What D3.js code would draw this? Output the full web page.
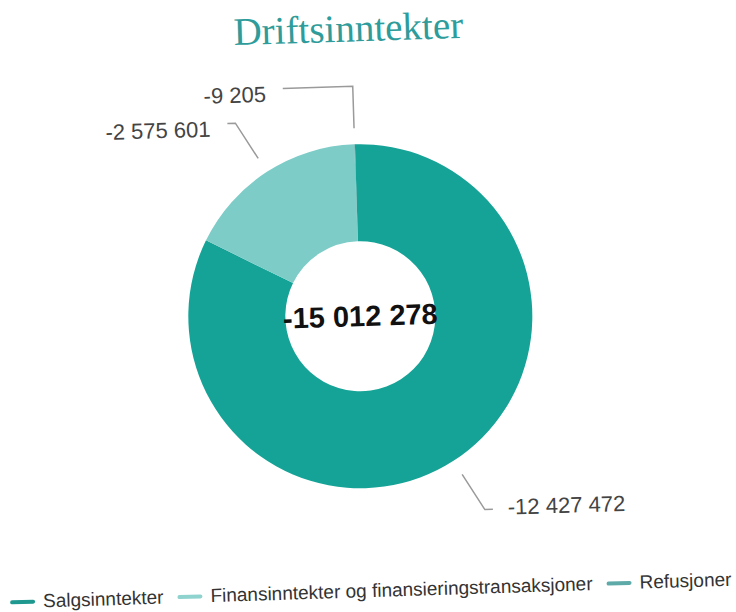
<!DOCTYPE html>
<html>
<head>
<meta charset="utf-8">
<script src="https://cdn.jsdelivr.net/npm/d3@7"></script>
<style>
  html, body { margin: 0; padding: 0; background: #fff; }
  svg { display: block; }
</style>
</head>
<body>
<svg id="chart" width="736" height="612"></svg>
<script>
// ---- data ----
const title = "Driftsinntekter";
const categories = ["Salgsinntekter", "Finansinntekter og finansieringstransaksjoner", "Refusjoner"];
const values = [-12427472, -2575601, -9205];
const colors = ["#14a396", "#7dccc7", "#4ea8a4"];
const legendColors = ["#1f9890", "#8fd3cf", "#5eaaa8"];

// ---- helpers ----
const fmt = v => {
  const s = Math.abs(v).toString().replace(/\B(?=(\d{3})+(?!\d))/g, " ");
  return (v < 0 ? "-" : "") + s;
};

const svg = d3.select("#chart");
// the reference is a slightly rotated scan
const root = svg.append("g").attr("transform", "rotate(-1.8,368,306)");

const cx = 360, cy = 316, R = 172, r = 75;

root.append("text")
  .attr("x", 357).attr("y", 41)
  .attr("text-anchor", "middle")
  .attr("font-family", "Liberation Serif, serif")
  .attr("font-size", 39)
  .attr("fill", "#2e9c9a")
  .text(title);

const data = categories.map((c, i) => ({ name: c, value: Math.abs(values[i]), raw: values[i], color: colors[i], i }));
const pie = d3.pie().sort(null).value(d => d.value);
const arcs = pie(data);
const arc = d3.arc().innerRadius(r).outerRadius(R);

const g = root.append("g").attr("transform", `translate(${cx},${cy})`);
g.selectAll("path").data(arcs).join("path")
  .attr("d", arc)
  .attr("fill", d => d.data.color);

// total in the centre
const total = d3.sum(values);
g.append("text")
  .attr("x", 0).attr("y", 10)
  .attr("text-anchor", "middle")
  .attr("font-family", "Liberation Sans, Arial, sans-serif")
  .attr("font-weight", "bold")
  .attr("font-size", 29)
  .attr("fill", "#111")
  .text(fmt(total));

// leader lines and labels
const startArc = d3.arc().innerRadius(R + 16).outerRadius(R + 16);
const elbowArc = d3.arc().innerRadius(R + 58).outerRadius(R + 58);
arcs.forEach(a => {
  const mid = (a.startAngle + a.endAngle) / 2;
  let p0 = startArc.centroid({startAngle: mid, endAngle: mid});
  let p1 = elbowArc.centroid({startAngle: mid, endAngle: mid});
  const right = Math.sin(mid) > 0;
  let hLen = 8;
  if (a.data.i === 2) { // tiny slice at the top: pushed left
    p1 = [p0[0], p1[1]];
    hLen = 70;
  }
  const p2 = [p1[0] + (right ? hLen : -hLen), p1[1]];
  g.append("polyline")
    .attr("points", [p0, p1, p2].map(p => p.join(",")).join(" "))
    .attr("fill", "none")
    .attr("stroke", "#9a9a9a")
    .attr("stroke-width", 1.5);
  g.append("text")
    .attr("x", p2[0] + (right ? 15 : -17))
    .attr("y", p2[1] + (right ? -2 : 5))
    .attr("dy", "0.35em")
    .attr("text-anchor", right ? "start" : "end")
    .attr("font-family", "Liberation Sans, Arial, sans-serif")
    .attr("font-size", 22)
    .attr("fill", "#444")
    .text(fmt(a.data.raw));
});

// legend
const legend = root.append("g").attr("transform", "translate(1,597)");
let lx = 0;
categories.forEach((c, i) => {
  legend.append("line")
    .attr("x1", lx + 2).attr("x2", lx + 23)
    .attr("y1", -6).attr("y2", -6)
    .attr("stroke", legendColors[i])
    .attr("stroke-width", 4)
    .attr("stroke-linecap", "round");
  const t = legend.append("text")
    .attr("x", lx + 33).attr("y", 0)
    .attr("font-family", "Liberation Sans, Arial, sans-serif")
    .attr("font-size", 19)
    .attr("fill", "#333")
    .text(c);
  lx += 33 + t.node().getComputedTextLength() + 14;
});
</script>
</body>
</html>
